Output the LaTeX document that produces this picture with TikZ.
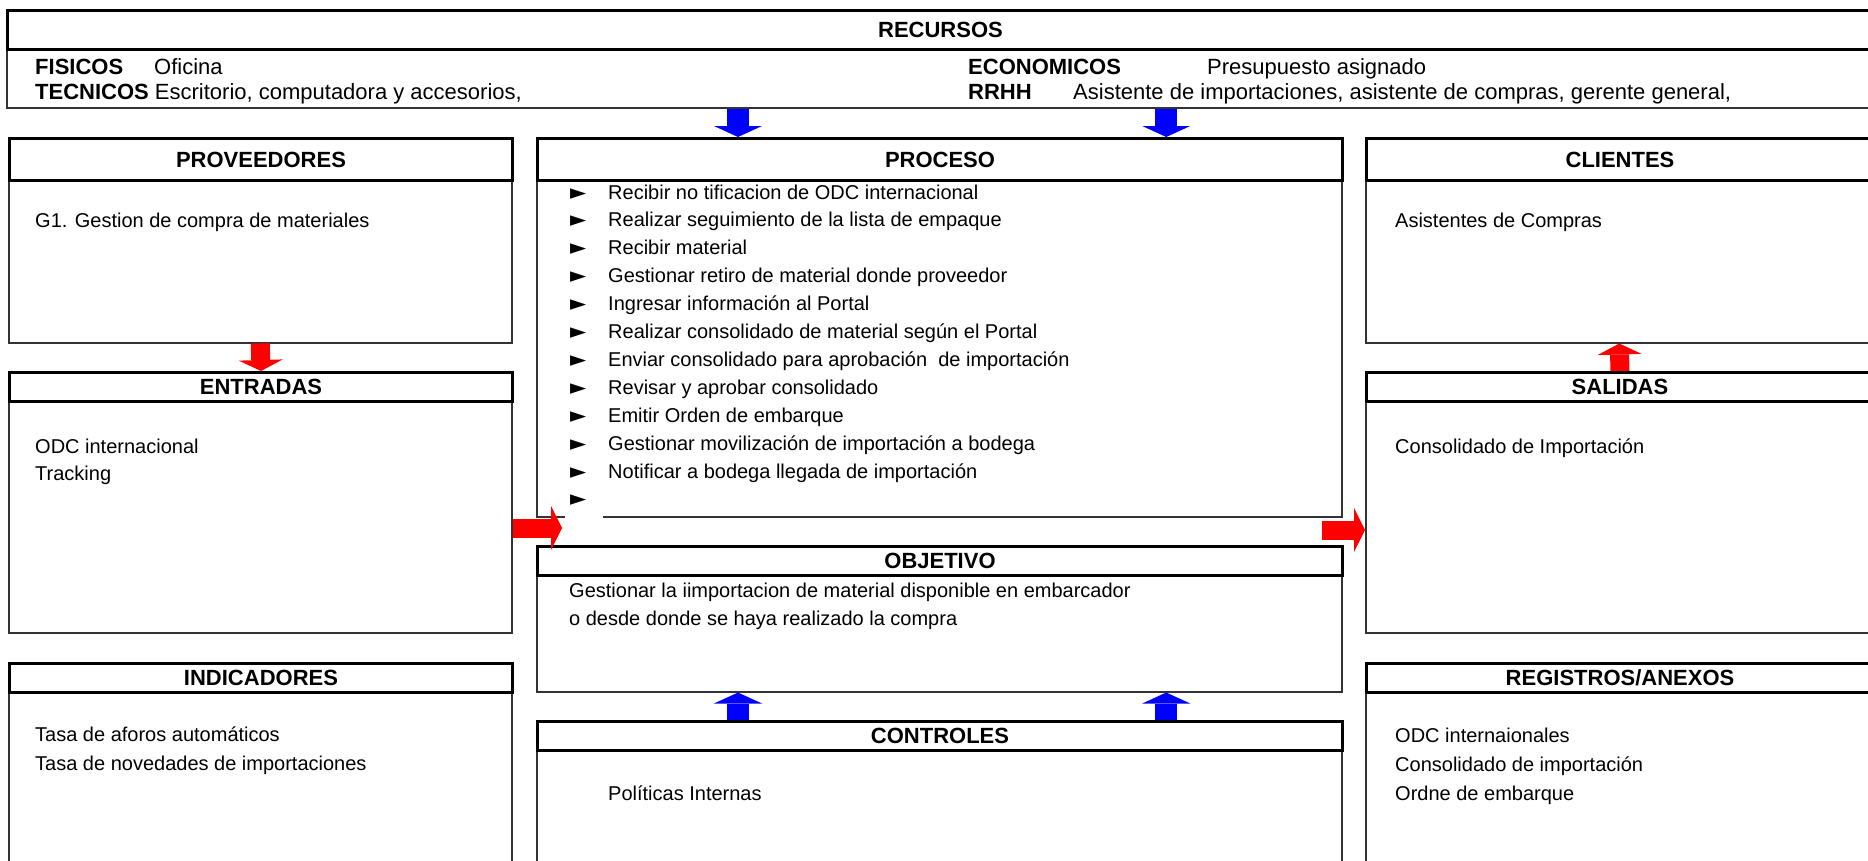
\documentclass[tikz,border=0pt]{standalone}
\usepackage{fontspec}
\setmainfont{Liberation Sans}
\newfontfamily\symfont{DejaVu Sans}
\usetikzlibrary{arrows.meta,calc}

\tikzset{
  bodybox/.style={draw=black!80, line width=1.5pt, fill=white, inner sep=0pt, anchor=north west},
  headbox/.style={draw=black, line width=3pt, inner sep=0pt, anchor=north west,
    font=\fontsize{22}{26}\selectfont\bfseries, text depth=0pt},
  toptext/.style={anchor=base west, inner sep=0pt, font=\fontsize{22}{26}\selectfont},
  bodytext/.style={anchor=base west, inner sep=0pt, font=\fontsize{20}{24}\selectfont},
  bulletmark/.style={anchor=base west, inner sep=0pt, font=\symfont\fontsize{21}{24}\selectfont},
  bluearrow/.style={draw=blue, line width=22pt, -{Triangle[width=48pt,length=11pt,line width=0pt]}},
  redarrow/.style={draw=red, line width=19pt, -{Triangle[width=44pt,length=11pt,line width=0pt]}},
}

\begin{document}
\begin{tikzpicture}[x=1pt,y=-1pt]
\useasboundingbox (0,0) rectangle (1868,860);
\fill[white] (0,0) rectangle (1868,860);
\clip (0,0) rectangle (1868,860);

% ---- resources band ----
\node[bodybox, minimum width=1866pt, minimum height=98pt] (rec) at (6,9) {};
\node[headbox, minimum width=1866pt, minimum height=39pt] (rech) at (6,9) {RECURSOS};
\node[toptext] (fis) at (35,74) {\textbf{FISICOS}};
\node[toptext] (fisv) at (154,74) {Oficina};
\node[toptext] (tec) at (35,99) {\textbf{TECNICOS} Escritorio, computadora y accesorios,};
\node[toptext] (eco) at (968,74) {\textbf{ECONOMICOS}};
\node[toptext] (ecov) at (1207,74) {Presupuesto asignado};
\node[toptext] (rrhh) at (968,99) {\textbf{RRHH}};
\node[toptext] (rrhhv) at (1073,99) {Asistente de importaciones, asistente de compras, gerente general,};

% ---- left column ----
\node[bodybox, minimum width=503pt, minimum height=205pt] (prov) at (8,137) {};
\node[headbox, minimum width=503pt, minimum height=42pt] (provh) at (8,137) {PROVEEDORES};
\node[bodytext] (provt) at (35,227) {G1. Gestion de compra de materiales};

\node[bodybox, minimum width=503pt, minimum height=261pt] (ent) at (8,371) {};
\node[headbox, minimum width=503pt, minimum height=29pt] (enth) at (8,371) {ENTRADAS};
\node[bodytext] (ent1) at (35,453) {ODC internacional};
\node[bodytext] (ent2) at (35,480) {Tracking};

\node[bodybox, minimum width=503pt, minimum height=220pt] (ind) at (8,662) {};
\node[headbox, minimum width=503pt, minimum height=29pt] (indh) at (8,662) {INDICADORES};
\node[bodytext] (ind1) at (35,741) {Tasa de aforos automáticos};
\node[bodytext] (ind2) at (35,770) {Tasa de novedades de importaciones};

% ---- middle column ----
\node[bodybox, minimum width=805pt, minimum height=379pt] (proc) at (536,137) {};
\node[headbox, minimum width=805pt, minimum height=42pt] (proch) at (536,137) {PROCESO};
\foreach \txt [count=\k from 0] in {
  Recibir no tificacion de ODC internacional,
  Realizar seguimiento de la lista de empaque,
  Recibir material,
  Gestionar retiro de material donde proveedor,
  Ingresar información al Portal,
  Realizar consolidado de material según el Portal,
  Enviar consolidado para aprobación~ de importación,
  Revisar y aprobar consolidado,
  Emitir Orden de embarque,
  Gestionar movilización de importación a bodega,
  Notificar a bodega llegada de importación,
  {}}
{
  \node[bulletmark] (bm\k) at (570,{199+27.9*\k}) {►};
  \node[bodytext] (bt\k) at (608,{199+27.9*\k}) {\txt};
}
% the empty last item is set on a white field that breaks the frame line
\fill[white] (565,511) rectangle (603,520);

\node[bodybox, minimum width=805pt, minimum height=146pt] (obj) at (536,545) {};
\node[headbox, minimum width=805pt, minimum height=29pt] (objh) at (536,545) {OBJETIVO};
\node[bodytext] (obj1) at (569,597) {Gestionar la iimportacion de material disponible en embarcador};
\node[bodytext] (obj2) at (569,625) {o desde donde se haya realizado la compra};

\node[bodybox, minimum width=805pt, minimum height=162pt] (ctrl) at (536,720) {};
\node[headbox, minimum width=805pt, minimum height=29pt] (ctrlh) at (536,720) {CONTROLES};
\node[bodytext] (ctrl1) at (608,800) {Políticas Internas};

% ---- right column ----
\node[bodybox, minimum width=507pt, minimum height=205pt] (cli) at (1365,137) {};
\node[headbox, minimum width=507pt, minimum height=42pt] (clih) at (1365,137) {CLIENTES};
\node[bodytext] (clit) at (1395,227) {Asistentes de Compras};

\node[bodybox, minimum width=507pt, minimum height=261pt] (sal) at (1365,371) {};
\node[headbox, minimum width=507pt, minimum height=29pt] (salh) at (1365,371) {SALIDAS};
\node[bodytext] (salt) at (1395,453) {Consolidado de Importación};

\node[bodybox, minimum width=507pt, minimum height=220pt] (reg) at (1365,662) {};
\node[headbox, minimum width=507pt, minimum height=29pt] (regh) at (1365,662) {REGISTROS/ANEXOS};
\node[bodytext] (reg1) at (1395,742) {ODC internaionales};
\node[bodytext] (reg2) at (1395,771) {Consolidado de importación};
\node[bodytext] (reg3) at (1395,800) {Ordne de embarque};

% ---- block arrows ----
\coordinate (pa) at ($(proch.north west)!0.25!(proch.north east)$);
\coordinate (pb) at ($(proch.north west)!0.78!(proch.north east)$);
\draw[bluearrow] (pa |- rec.south) -- (pa);
\draw[bluearrow] (pb |- rec.south) -- (pb);
\draw[bluearrow] (pa |- ctrlh.north) -- (pa |- obj.south);
\draw[bluearrow] (pb |- ctrlh.north) -- (pb |- obj.south);

\coordinate (ryl) at (0,528);
\coordinate (ryr) at (0,530);
\draw[redarrow] (prov.south) -- (enth.north);
\draw[redarrow] (salh.north) -- (cli.south);
\draw[redarrow] (ent.east |- ryl) -- ([xshift=26pt]proc.west |- ryl);
\draw[redarrow] ([xshift=-21pt]proc.east |- ryr) -- (sal.west |- ryr);
\end{tikzpicture}
\end{document}
